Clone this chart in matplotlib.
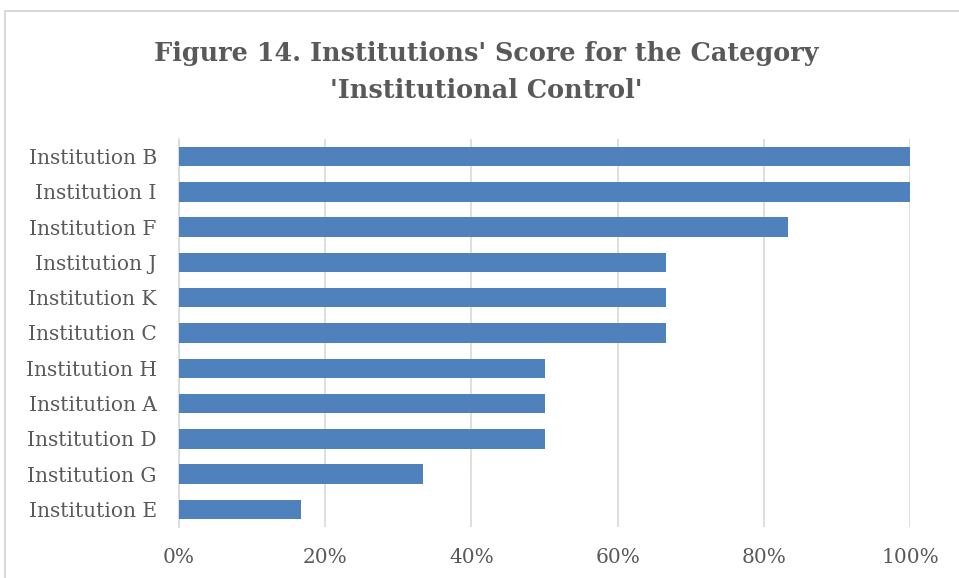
import matplotlib.pyplot as plt
from matplotlib.patches import Rectangle
from matplotlib.ticker import FuncFormatter

BAR = "#4f81bd"
TEXT = "#595959"
GRID = "#d9d9d9"

institutions = ["Institution B", "Institution I", "Institution F", "Institution J",
                "Institution K", "Institution C", "Institution H", "Institution A",
                "Institution D", "Institution G", "Institution E"]
scores = [1.0, 1.0, 0.8333, 0.6667, 0.6667, 0.6667, 0.5, 0.5, 0.5, 0.3333, 0.1667]
xticks = [0, 0.2, 0.4, 0.6, 0.8, 1.0]

plt.rcParams["font.family"] = ["DejaVu Serif"]

W, H = 959, 578
fig = plt.figure(figsize=(W / 100, H / 100), dpi=100)
fig.patch.set_facecolor("white")

# outer chart border (runs off the right and bottom edge)
fig.add_artist(Rectangle((5 / W, -0.05), 1.2, 1 - 11 / H + 0.05, transform=fig.transFigure,
                         facecolor="none", edgecolor=GRID, linewidth=1.5))

ax = fig.add_axes([179 / W, 51 / H, 731 / W, 388 / H])
ypos = list(range(len(institutions)))[::-1]
ax.barh(ypos, scores, height=0.55, color=BAR, zorder=3)

ax.set_xlim(0, 1.0)
ax.set_ylim(-0.5, len(institutions) - 0.5)
ax.set_xticks(xticks)
ax.xaxis.set_major_formatter(FuncFormatter(lambda v, _: f"{v * 100:.0f}%"))
ax.set_yticks(ypos)
ax.set_yticklabels(institutions)
ax.tick_params(axis="both", length=0, labelsize=14.5, colors=TEXT)
ax.tick_params(axis="x", pad=15)
ax.tick_params(axis="y", pad=16)
ax.grid(axis="x", color=GRID, linewidth=1.2, zorder=0)
for s in ["top", "right", "bottom"]:
    ax.spines[s].set_visible(False)
ax.spines["left"].set_color(GRID)
ax.spines["left"].set_linewidth(1.2)

fig.text(0.507, 1 - 72 / H, "Figure 14. Institutions' Score for the Category\n'Institutional Control'",
         ha="center", va="center", fontsize=18.4, fontweight="bold", color=TEXT, linespacing=1.55)

fig.savefig("out.png", dpi=100, facecolor="white")
plt.close(fig)
